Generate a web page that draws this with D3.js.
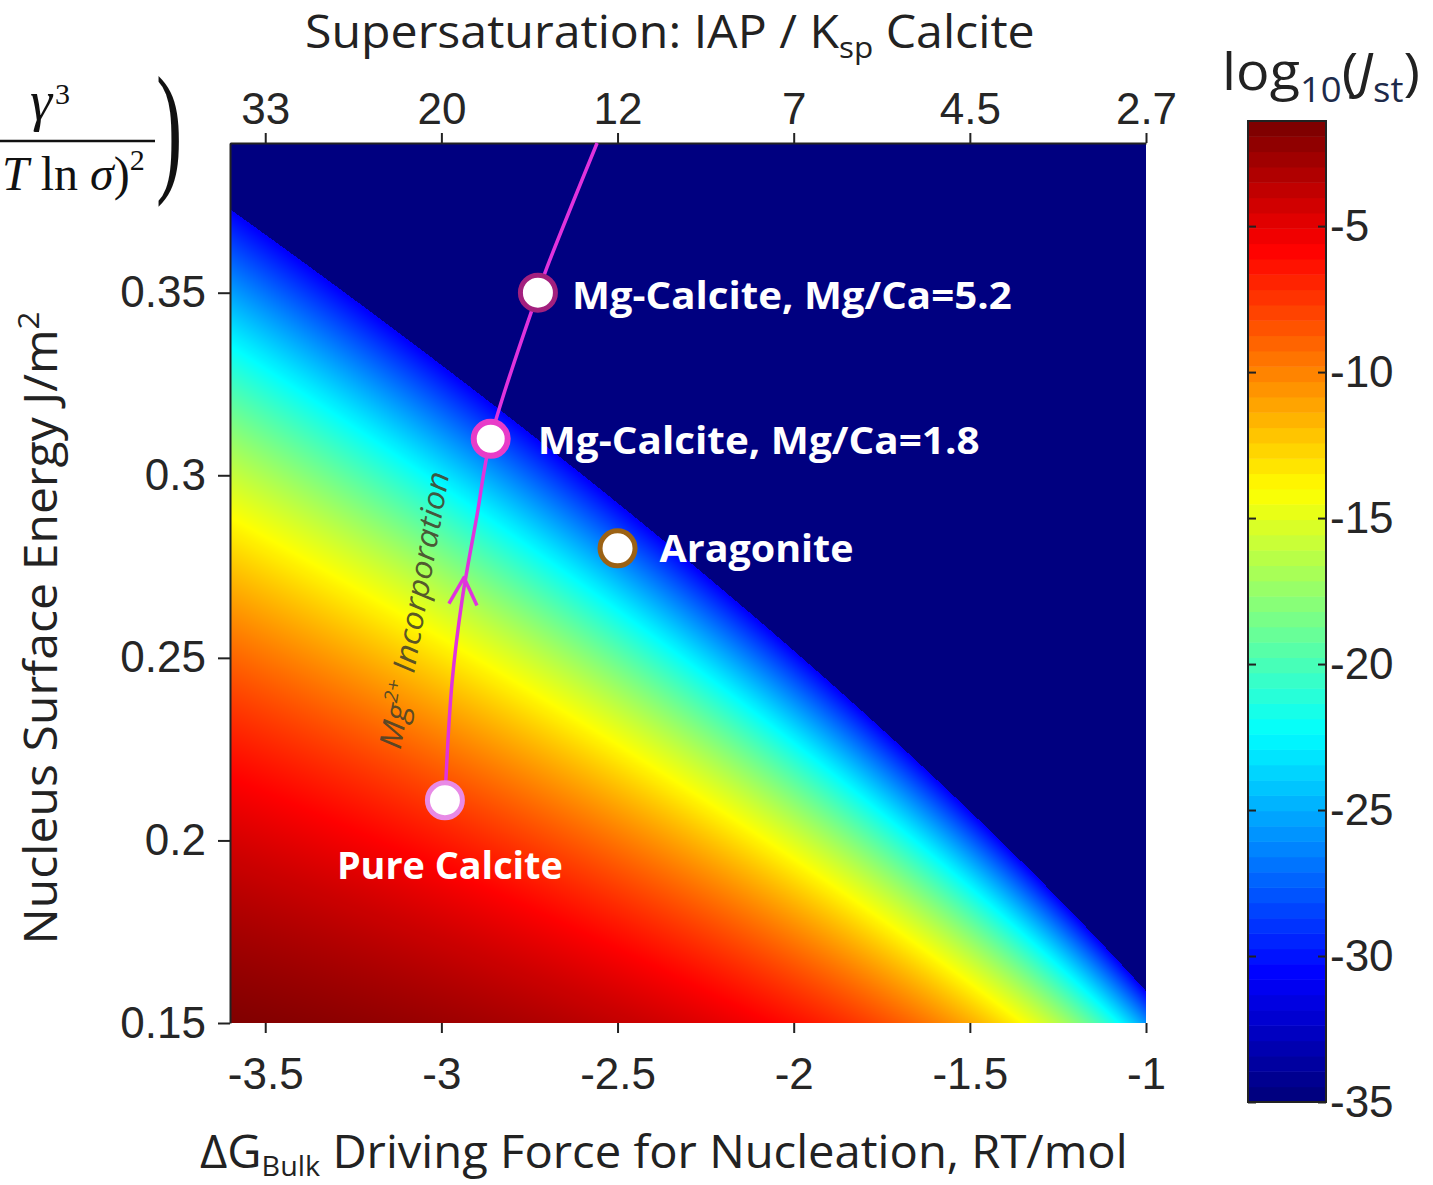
<!DOCTYPE html>
<html>
<head>
<meta charset="utf-8">
<script src="https://cdn.jsdelivr.net/npm/d3@7"></script>
<style>
  body { margin: 0; background: #fff; }
  .tick text { font-family: "Liberation Sans", Arial, sans-serif; fill: #262626; }
</style>
</head>
<body>
<div id="chart"></div>
<script>
// axis data
const dGDomain = [-3.6, -1];
const gammaDomain = [0.15, 0.391];
const xTicks = [-3.5, -3, -2.5, -2, -1.5, -1];
const xTickLabels = ["-3.5", "-3", "-2.5", "-2", "-1.5", "-1"];
const topTickLabels = ["33", "20", "12", "7", "4.5", "2.7"];
const yTicks = [0.15, 0.2, 0.25, 0.3, 0.35];
const yTickLabels = ["0.15", "0.2", "0.25", "0.3", "0.35"];
const cbDomain = [-35, -1.4];
const cbTicks = [-5, -10, -15, -20, -25, -30, -35];
const cbTickLabels = ["-5", "-10", "-15", "-20", "-25", "-30", "-35"];

// nucleation rate surface: log10 J = logJ0 - rateSlope * gamma^3 / dG^2,
// coefficients; below the cutoff the plot shows the floor colour
const logJ0 = 0.66;
const rateSlope = 7914;
const rateCutoff = -31;

// phases
const phaseNames = ["Pure Calcite", "Mg-Calcite, Mg/Ca=1.8", "Mg-Calcite, Mg/Ca=5.2", "Aragonite"];
const phaseDG = [-2.99, -2.86, -2.726, -2.5];
const phaseGamma = [0.211, 0.31, 0.35, 0.28];

// Mg incorporation path
const pathDG = [-2.99, -2.97, -2.941, -2.899, -2.86, -2.726, -2.70, -2.558];
const pathGamma = [0.211, 0.243, 0.266, 0.289, 0.31, 0.35, 0.357, 0.391];
const arrowDG = -2.936, arrowGamma = 0.272;

// styles
const ringColors = ["#e88ae6", "#e83cc8", "#a3207e", "#9c6214"];
const ringWidths = [5, 6, 5, 5];
const labelOffsets = [[-108, 79, 226], [47, 15, 442], [34, 16, 440], [42, 14, 194]];

const svg = d3.select("#chart").append("svg")
  .attr("width", 1433).attr("height", 1185)
  .style("font-family", "'Open Sans', sans-serif");

const x = d3.scaleLinear().domain(dGDomain).range([230, 1146]);
const y = d3.scaleLinear().domain(gammaDomain).range([1023, 143]);

// jet colormap
const jet = d3.scaleLinear()
  .domain(d3.range(9).map(i => i / 8))
  .range(["#000080", "#0000ff", "#0080ff", "#00ffff", "#80ff80", "#ffff00", "#ff8000", "#ff0000", "#800000"])
  .clamp(true);
const palette = d3.range(64).map(i => d3.rgb(jet(i / 63)));   // colorbar, 64 bands
const smooth = d3.range(1024).map(i => d3.rgb(jet(i / 1023)));  // heatmap, interpolated shading
const tOf = v => Math.max(0, Math.min(1, (v - cbDomain[0]) / (cbDomain[1] - cbDomain[0])));

function logRate(dG, g) {
  const v = logJ0 - rateSlope * g * g * g / (dG * dG);
  return v < rateCutoff ? cbDomain[0] : v;
}

// heatmap
const W = x.range()[1] - x.range()[0], H = y.range()[0] - y.range()[1];
const canvas = document.createElement("canvas");
canvas.width = W; canvas.height = H;
const ctx = canvas.getContext("2d");
const img = ctx.createImageData(W, H);
for (let py = 0; py < H; py++) {
  const g = y.invert(y.range()[1] + py + 0.5);
  for (let px = 0; px < W; px++) {
    const c = smooth[Math.round(tOf(logRate(x.invert(x.range()[0] + px + 0.5), g)) * 1023)];
    const k = (py * W + px) * 4;
    img.data[k] = c.r; img.data[k + 1] = c.g; img.data[k + 2] = c.b; img.data[k + 3] = 255;
  }
}
ctx.putImageData(img, 0, 0);
svg.append("image")
  .attr("x", x.range()[0]).attr("y", y.range()[1])
  .attr("width", W).attr("height", H)
  .attr("preserveAspectRatio", "none")
  .attr("href", canvas.toDataURL());

// axes
const styleAxis = g => {
  g.selectAll(".tick line").attr("stroke", "#222").attr("stroke-width", 2);
  g.selectAll(".tick text").style("font-size", "44px");
  g.select(".domain").attr("stroke", "#222").attr("stroke-width", 2);
};
svg.append("g").attr("transform", "translate(230,0)")
  .call(d3.axisLeft(y).tickValues(yTicks).tickFormat((d, i) => yTickLabels[i]).tickSize(12).tickSizeOuter(0).tickPadding(12))
  .call(styleAxis);
svg.append("g").attr("transform", "translate(0,1023)")
  .call(d3.axisBottom(x).tickValues(xTicks).tickFormat((d, i) => xTickLabels[i]).tickSize(10).tickSizeOuter(0).tickPadding(25))
  .call(styleAxis)
  .call(g => g.select(".domain").remove());
svg.append("g").attr("transform", "translate(0,143)")
  .call(d3.axisTop(x).tickValues(xTicks).tickFormat((d, i) => topTickLabels[i]).tickSize(10).tickSizeOuter(0).tickPadding(9))
  .call(styleAxis);

// Mg incorporation path
const pts = pathDG.map((d, i) => [x(d), y(pathGamma[i])]);
svg.append("path")
  .attr("d", d3.line().curve(d3.curveCatmullRom)(pts))
  .attr("fill", "none").attr("stroke", "#e033dd").attr("stroke-width", 3.5);
const ax = x(arrowDG), ay = y(arrowGamma);
svg.append("path")
  .attr("d", `M${ax - 15},${ay + 26}L${ax},${ay}L${ax + 13},${ay + 28}`)
  .attr("fill", "none").attr("stroke", "#e033dd").attr("stroke-width", 3.5)
  .attr("stroke-linejoin", "round");

function fitWidth(text, w) {
  const bw = text.node().getBBox().width;
  text.attr("transform", `scale(${w / bw},1)`);
}

const mgText = svg.append("g").attr("transform", "translate(425,612) rotate(-80)")
  .append("text").attr("text-anchor", "middle")
  .style("font-style", "italic").style("font-size", "31px")
  .attr("fill", "#45422a").attr("fill-opacity", 0.9);
mgText.append("tspan").text("Mg");
mgText.append("tspan").attr("dy", -12).style("font-size", "19px").text("2+");
mgText.append("tspan").attr("dy", 12).text(" Incorporation");
fitWidth(mgText, 281);

// phase markers
svg.selectAll(".phase")
  .data(phaseNames)
  .join("circle")
    .attr("class", "phase")
    .attr("cx", (d, i) => x(phaseDG[i]))
    .attr("cy", (d, i) => y(phaseGamma[i]))
    .attr("r", (d, i) => 20 - ringWidths[i] / 2)
    .attr("fill", "#fff")
    .attr("stroke", (d, i) => ringColors[i])
    .attr("stroke-width", (d, i) => ringWidths[i]);

phaseNames.forEach((name, i) => {
  const o = labelOffsets[i];
  const t = svg.append("g")
    .attr("transform", `translate(${x(phaseDG[i]) + o[0]},${y(phaseGamma[i]) + o[1]})`)
    .append("text")
    .style("font-weight", "bold").style("font-size", "38px")
    .attr("fill", "#fff")
    .text(name);
  fitWidth(t, o[2]);
});

// colorbar
const cy = d3.scaleLinear().domain(cbDomain).range([1102, 121]);
const cbX = 1248, cbW = 78;
const step = (cbDomain[1] - cbDomain[0]) / 64;
svg.append("g").selectAll("rect")
  .data(palette)
  .join("rect")
    .attr("x", cbX).attr("width", cbW)
    .attr("y", (d, i) => cy(cbDomain[0] + (i + 1) * step))
    .attr("height", cy(cbDomain[0]) - cy(cbDomain[0] + step) + 0.5)
    .attr("fill", d => d.formatHex());
svg.append("rect")
  .attr("x", cbX).attr("y", cy(cbDomain[1])).attr("width", cbW).attr("height", cy(cbDomain[0]) - cy(cbDomain[1]))
  .attr("fill", "none").attr("stroke", "#222").attr("stroke-width", 2);
svg.append("g").attr("transform", `translate(${cbX + cbW},0)`)
  .call(d3.axisRight(cy).tickValues(cbTicks).tickFormat((d, i) => cbTickLabels[i]).tickSize(-8).tickSizeOuter(0).tickPadding(4))
  .call(styleAxis)
  .call(g => g.select(".domain").remove());
svg.append("g").attr("transform", `translate(${cbX},0)`)
  .call(d3.axisLeft(cy).tickValues(cbTicks).tickFormat("").tickSize(-8).tickSizeOuter(0))
  .call(styleAxis)
  .call(g => g.select(".domain").remove());

// titles
const title = svg.append("g").attr("transform", "translate(305,48)")
  .append("text").style("font-size", "46px").attr("fill", "#222");
title.append("tspan").text("Supersaturation: IAP / K");
title.append("tspan").attr("dy", 10).style("font-size", "30px").text("sp");
title.append("tspan").attr("dy", -10).text(" Calcite");
fitWidth(title, 730);

const xLabel = svg.append("g").attr("transform", "translate(200,1168)")
  .append("text").style("font-size", "46px").attr("fill", "#222");
xLabel.append("tspan").text("ΔG");
xLabel.append("tspan").attr("dy", 8).style("font-size", "28px").text("Bulk");
xLabel.append("tspan").attr("dy", -8).text(" Driving Force for Nucleation, RT/mol");
fitWidth(xLabel, 928);

const yLabel = svg.append("g").attr("transform", "translate(57,628) rotate(-90)")
  .append("text").attr("text-anchor", "middle").style("font-size", "46px").attr("fill", "#222");
yLabel.append("tspan").text("Nucleus Surface Energy J/m");
yLabel.append("tspan").attr("dy", -18).style("font-size", "30px").text("2");
fitWidth(yLabel, 633);

const cbTitle = svg.append("g").attr("transform", "translate(1222,90)")
  .append("text").style("font-size", "52px").attr("fill", "#222");
cbTitle.append("tspan").text("log");
cbTitle.append("tspan").attr("dy", 12).style("font-size", "34px").attr("fill", "#1d2a4a").text("10");
cbTitle.append("tspan").attr("dy", -12).text("(");
cbTitle.append("tspan").style("font-style", "italic").text("J");
cbTitle.append("tspan").attr("dy", 12).style("font-size", "34px").attr("fill", "#1d2a4a").text("st");
cbTitle.append("tspan").attr("dy", -12).text(")");
fitWidth(cbTitle, 198);

// formula fragment, cut at the left edge as in the source figure
const serif = "'Liberation Serif', 'Times New Roman', serif";
const num = svg.append("text").attr("x", 30).attr("y", 120)
  .style("font-family", serif).style("font-size", "56px").attr("fill", "#111");
num.append("tspan").style("font-style", "italic").text("γ");
num.append("tspan").attr("dy", -16).attr("dx", 3).style("font-size", "30px").text("3");
svg.append("line").attr("x1", 0).attr("x2", 155).attr("y1", 141).attr("y2", 141)
  .attr("stroke", "#111").attr("stroke-width", 2.5);
const den = svg.append("text").attr("x", 2).attr("y", 190)
  .style("font-family", serif).style("font-size", "48px").attr("fill", "#111");
den.append("tspan").style("font-style", "italic").text("T");
den.append("tspan").text(" ln ");
den.append("tspan").style("font-style", "italic").text("σ");
den.append("tspan").text(")");
den.append("tspan").attr("dy", -20).style("font-size", "30px").text("2");
svg.append("g").attr("transform", "translate(156,176)")
  .append("text").attr("transform", "scale(0.55,1)")
  .style("font-family", serif).style("font-size", "144px").attr("fill", "#111")
  .text(")");
</script>
</body>
</html>
